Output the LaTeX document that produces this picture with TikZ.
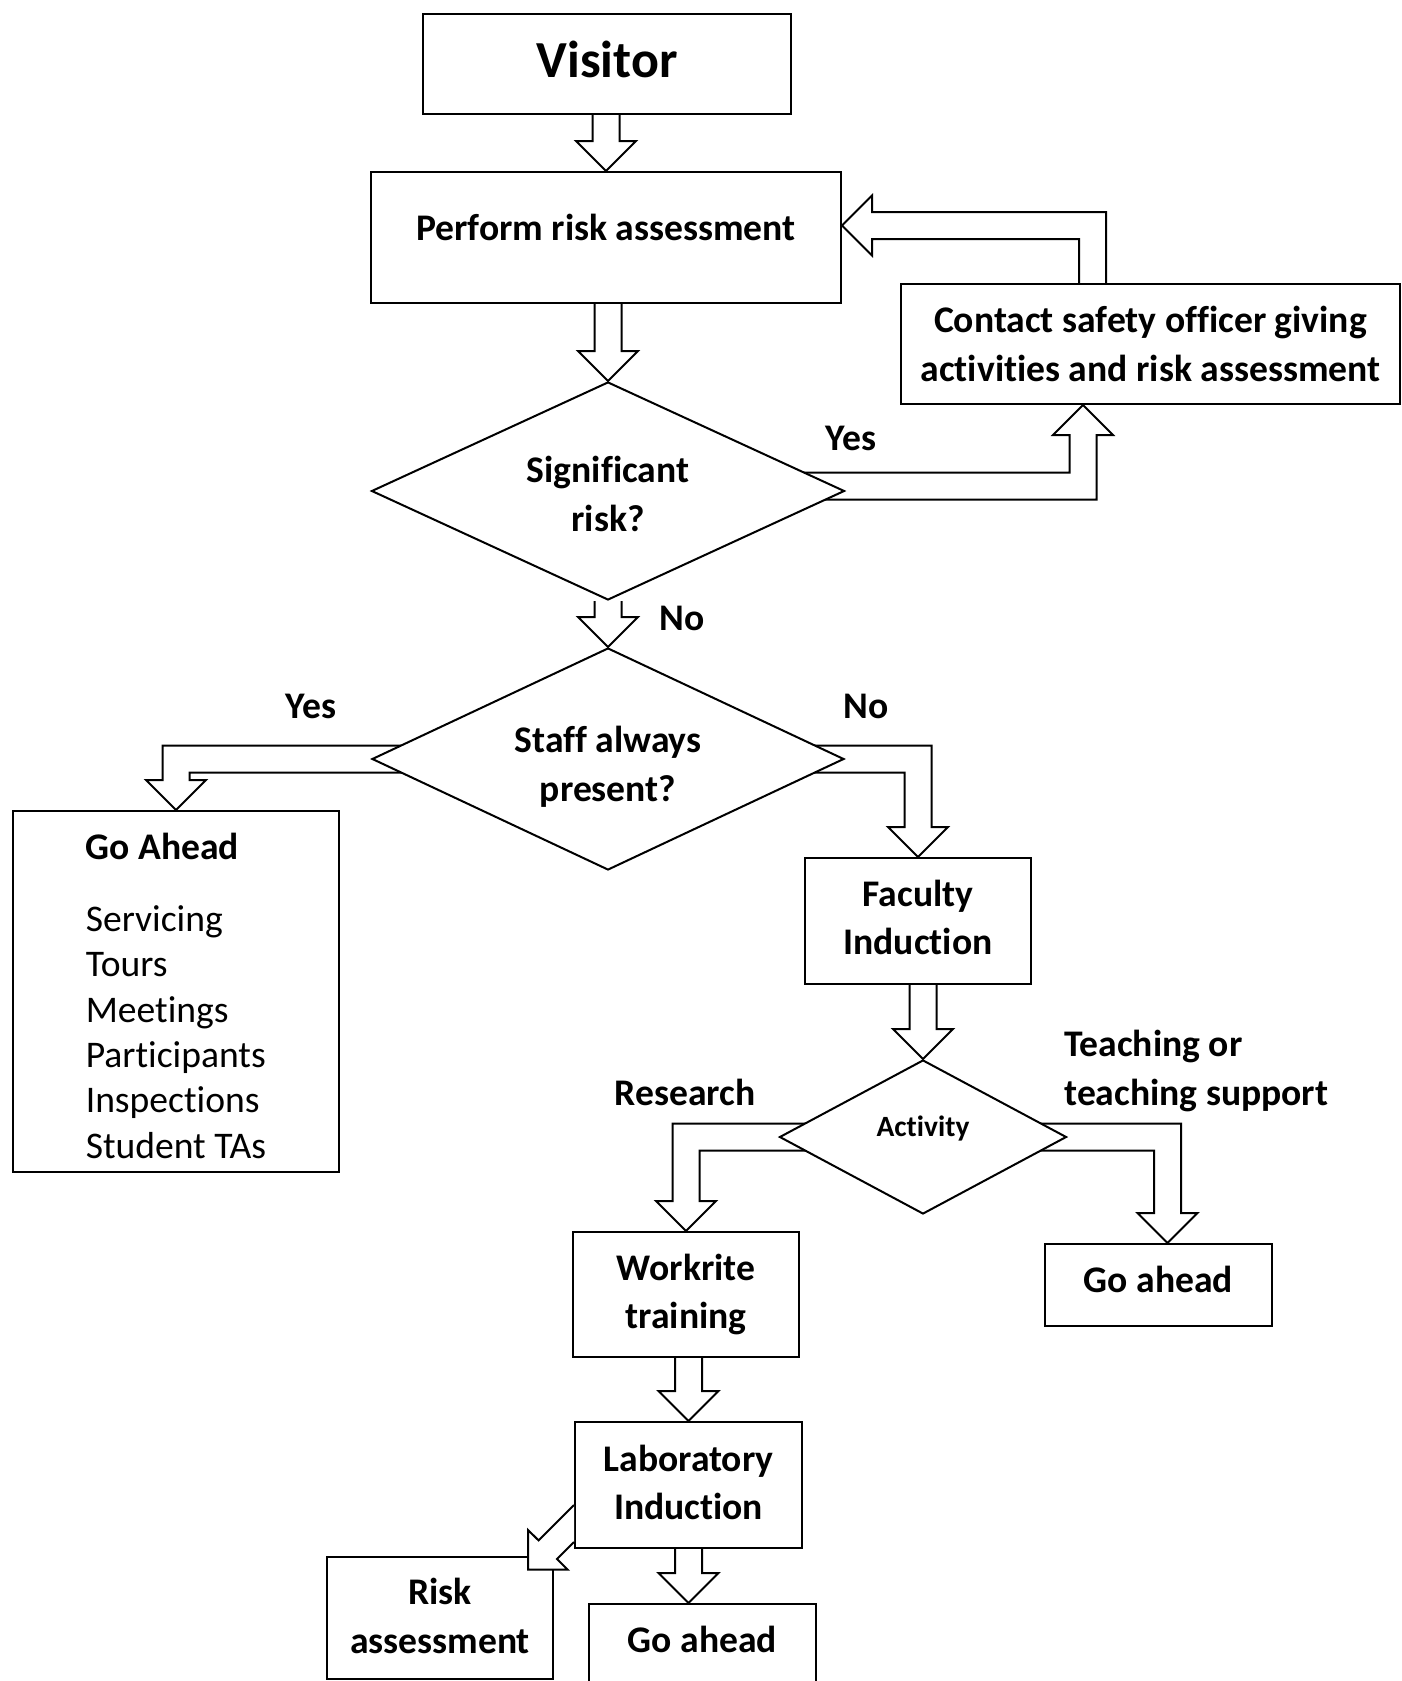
\documentclass[tikz,border=0pt]{standalone}
\usepackage{fontspec}
\setmainfont{Carlito}[Ligatures=NoCommon]
\usetikzlibrary{shapes.geometric,calc,backgrounds}

\tikzset{
	box/.style={draw, line width=1pt, fill=white, align=center, inner sep=2pt},
	dec/.style={diamond, draw, line width=1pt, fill=white, align=center, inner sep=0pt, aspect=2},
	lbl/.style={inner sep=0pt},
	blk/.style={draw, fill=white, line width=1pt, line join=miter}
}

\newcommand{\downblock}[2]{%
	\draw[blk] let \p1=(#1), \p2=(#2) in
		(\x2-\sw,\y1) |- (\x2-\hw,\y2+\hl) -- (\x2,\y2) -- (\x2+\hw,\y2+\hl) -| (\x2+\sw,\y1);}
\newcommand{\rdblock}[2]{%
	\draw[blk] let \p1=(#1), \p2=(#2) in
		(\x1,\y1+\sw) -| (\x2+\sw,\y2+\hl) -- (\x2+\hw,\y2+\hl) -- (\x2,\y2) -- (\x2-\hw,\y2+\hl) -- (\x2-\sw,\y2+\hl) |- (\x1,\y1-\sw);}
\newcommand{\ldblock}[2]{%
	\draw[blk] let \p1=(#1), \p2=(#2) in
		(\x1,\y1+\sw) -| (\x2-\sw,\y2+\hl) -- (\x2-\hw,\y2+\hl) -- (\x2,\y2) -- (\x2+\hw,\y2+\hl) -- (\x2+\sw,\y2+\hl) |- (\x1,\y1-\sw);}
\newcommand{\rublock}[2]{%
	\draw[blk] let \p1=(#1), \p2=(#2) in
		(\x1,\y1+\sw) -| (\x2-\sw,\y2-\hl) -- (\x2-\hw,\y2-\hl) -- (\x2,\y2) -- (\x2+\hw,\y2-\hl) -- (\x2+\sw,\y2-\hl) |- (\x1,\y1-\sw);}
\newcommand{\ulblock}[2]{%
	\draw[blk] let \p1=(#1), \p2=(#2) in
		(\x1-\sw,\y1) |- (\x2+\hl,\y2-\sw) -- (\x2+\hl,\y2-\hw) -- (\x2,\y2) -- (\x2+\hl,\y2+\hw) -- (\x2+\hl,\y2+\sw) -| (\x1+\sw,\y1);}

\begin{document}
\begin{tikzpicture}[x=0.5pt, y=-0.5pt, font=\bfseries\fontsize{18.8}{24.2}\selectfont]
	\def\sw{6.75pt}
	\def\hw{15pt}
	\def\hl{15pt}
	\useasboundingbox (0,0) rectangle (1402,1681);
	
	\node[box, minimum width=184pt, minimum height=50pt, text depth=5pt, font=\bfseries\fontsize{26}{30}\selectfont] (visitor) at (607,64) {Visitor};
	\node[box, minimum width=235pt, minimum height=65.5pt, text depth=10.5pt] (perform) at (606,237.5) {Perform risk assessment};
	\node[box, minimum width=249.5pt, minimum height=60pt] (contact) at (1150.5,344) {Contact safety officer giving\\activities and risk assessment};
	\node[dec, minimum width=236.5pt, minimum height=109pt] (signif) at (608,491) {\rule{0pt}{16.2pt}Significant\\risk?};
	\node[dec, minimum width=236pt, minimum height=111pt, text depth=0pt] (staff) at (608,759) {\rule{0pt}{17.8pt}Staff always\\present?};
	\node[box, minimum width=163pt, minimum height=180.5pt, align=left, font=\fontsize{18.8}{22.7}\selectfont] (goone) at (176,991.5) {\rule{0pt}{17.8pt}\textbf{Go Ahead}\\[13pt]Servicing\\Tours\\Meetings\\Participants\\Inspections\\Student TAs};
	\node[box, minimum width=113pt, minimum height=63pt, text depth=4pt] (faculty) at (918,921) {Faculty\\Induction};
	\node[dec, minimum width=143.5pt, minimum height=77pt, text depth=11pt, font=\bfseries\fontsize{14.7}{17}\selectfont] (activity) at (923,1137) {Activity};
	\node[box, minimum width=113pt, minimum height=62.5pt] (workrite) at (686,1294.5) {Workrite\\training};
	\node[box, minimum width=113.5pt, minimum height=41pt, text depth=5.4pt] (gotwo) at (1158.5,1285) {Go ahead};
	\node[box, minimum width=113.5pt, minimum height=63pt, text depth=3pt] (lab) at (688.5,1485) {Laboratory\\Induction};
	\node[box, minimum width=113pt, minimum height=61pt, text depth=2.2pt] (risk) at (440,1618) {Risk\\assessment};
	\node[box, minimum width=113.5pt, minimum height=48pt, text depth=13pt] (gothree) at (702.5,1652) {Go ahead};
	
	\node[lbl] (yes1) at (851,438) {Yes};
	\node[lbl] (no1) at (682,618) {No};
	\node[lbl] (yes2) at (311,706) {Yes};
	\node[lbl] (no2) at (866,706) {No};
	\node[lbl] (research) at (685,1092) {Research};
	\node[lbl, align=left, anchor=west] (teaching) at (1064,1071) {Teaching or\\teaching support};
	
	\begin{scope}[on background layer]
		\downblock{visitor.south}{perform.north}
		\downblock{perform.south}{signif.north}
		\downblock{signif.south}{staff.north}
		\rublock{$(signif.center)+(0,-5)$}{$(contact.south)+(-67.5,0)$}
		\ulblock{$(contact.north)+(-58,0)$}{$(perform.east)+(0,-12)$}
		\ldblock{staff.center}{goone.north}
		\rdblock{staff.center}{faculty.north}
		\downblock{faculty.south}{activity.north}
		\ldblock{activity.center}{workrite.north}
		\rdblock{activity.center}{$(gotwo.north)+(9,0)$}
		\downblock{workrite.south}{lab.north}
		\downblock{lab.south}{lab.south |- gothree.north}
	\end{scope}
	\draw[blk] ($(lab.west)+(0,20)$) -- ($(lab.west)+(-35.4,55.4)$) -- ($(lab.west)+(-46,45)$) -- ($(lab.west)+(-46,84.6)$) -- ($(lab.west)+(-6.4,84.6)$) -- ($(lab.west)+(-17,74)$) -- ($(lab.west)+(0,57)$);
\end{tikzpicture}
\end{document}
